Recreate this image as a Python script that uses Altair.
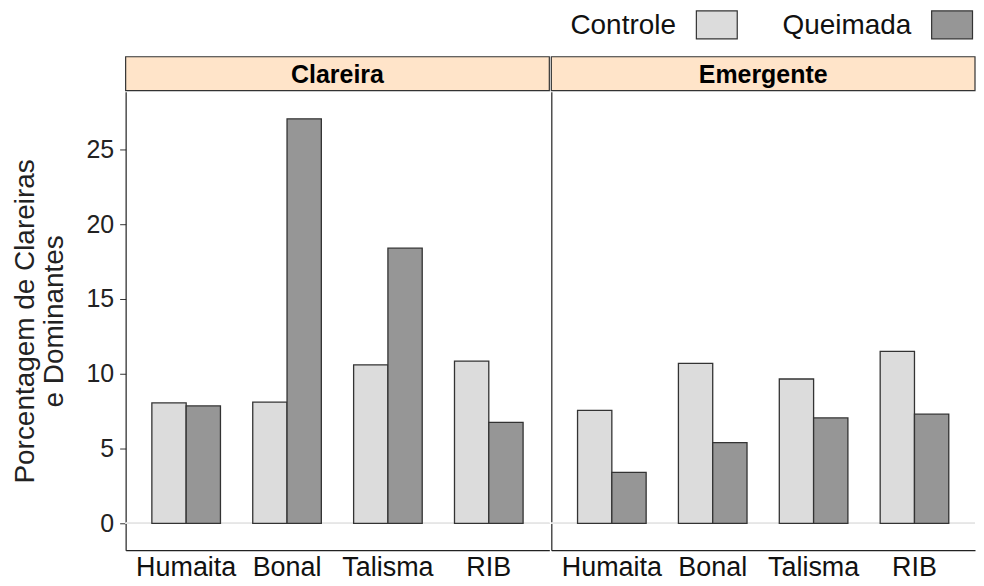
import altair as alt
import pandas as pd

panels = ["Clareira", "Emergente"]
sites = ["Humaita", "Bonal", "Talisma", "RIB"]
trats = ["Controle", "Queimada"]
clareira_controle = [8.05, 8.1, 10.6, 10.85]
clareira_queimada = [7.85, 27.05, 18.4, 6.75]
emergente_controle = [7.55, 10.7, 9.65, 11.5]
emergente_queimada = [3.4, 5.4, 7.05, 7.3]
fills = ["#DCDCDC", "#969696"]
y_ticks = [0, 5, 10, 15, 20, 25]

series = {
    ("Clareira", "Controle"): clareira_controle,
    ("Clareira", "Queimada"): clareira_queimada,
    ("Emergente", "Controle"): emergente_controle,
    ("Emergente", "Queimada"): emergente_queimada,
}
rows = []
for (p, t), vals in series.items():
    for s, v in zip(sites, vals):
        rows.append({"panel": p, "site": s, "trat": t, "val": v})
df = pd.DataFrame(rows)

W, H, SH = 425, 460, 34
FONT = "Liberation Sans"

def plot_panel(p, first):
    d = df[df.panel == p]
    yaxis = alt.Axis(
        values=y_ticks, grid=False, domain=True, domainColor="#222", domainWidth=1.2,
        tickColor="#333", tickSize=6, labelFontSize=25, labelColor="#222",
        labelFont=FONT, labelPadding=6,
        title=["Porcentagem de Clareiras", "e Dominantes"], titleFont=FONT,
        titleFontSize=28, titleFontWeight="normal", titleColor="#222", titlePadding=18,
        titleLineHeight=29,
    ) if first else alt.Axis(
        values=y_ticks, grid=False, domain=True, domainColor="#222", domainWidth=1.2,
        ticks=False, labels=False, title=None,
    )
    yscale = alt.Scale(domain=[-1.8, 28.87], nice=False, zero=False)
    bars = alt.Chart(d).mark_bar(stroke="#333", strokeWidth=1.3).encode(
        x=alt.X("site:N", sort=sites,
                scale=alt.Scale(paddingInner=0.32, paddingOuter=0.26),
                axis=alt.Axis(title=None, ticks=False, domain=True, domainColor="#222",
                              domainWidth=1.2, labelAngle=0, labelFontSize=27,
                              labelFont=FONT, labelColor="#111", labelPadding=4)),
        xOffset=alt.XOffset("trat:N", sort=trats,
                            scale=alt.Scale(paddingInner=0, paddingOuter=0)),
        y=alt.Y("val:Q", scale=yscale, axis=yaxis),
        fill=alt.Fill("trat:N", scale=alt.Scale(domain=trats, range=fills), legend=None),
    )
    zero = alt.Chart(d).mark_rule(color="#E6E6E6", strokeWidth=1.2).encode(
        y=alt.datum(0, scale=yscale)
    )
    return alt.layer(zero, bars).properties(width=W, height=H)

def strip(p):
    base = alt.Chart(alt.Data(values=[{"panel": p}]))
    rect = base.mark_rect(fill="#FFE4C9", stroke="#333", strokeWidth=1.2).encode(
        x=alt.value(0), x2=alt.value(W), y=alt.value(0), y2=alt.value(SH)
    )
    txt = base.mark_text(font=FONT, fontSize=25, fontWeight="bold", color="#000").encode(
        text="panel:N", x=alt.value(W / 2), y=alt.value(SH / 2 + 1)
    )
    return alt.layer(rect, txt).properties(width=W, height=SH)

leg_df = pd.DataFrame({"trat": trats})
leg_x = alt.X("trat:N", sort=trats, axis=None,
              scale=alt.Scale(type="point", domain=trats, range=[593, 829], padding=0))
leg_boxes = alt.Chart(leg_df).mark_rect(width=41, height=28, stroke="#333", strokeWidth=1.2).encode(
    x=leg_x, y=alt.value(16),
    fill=alt.Fill("trat:N", scale=alt.Scale(domain=trats, range=fills), legend=None),
)
leg_text = alt.Chart(leg_df).mark_text(align="right", dx=-41, font=FONT, fontSize=28,
                                       color="#111").encode(
    x=leg_x, y=alt.value(17), text="trat:N"
)
legend = alt.layer(leg_boxes, leg_text).properties(width=2 * W, height=38)

col1 = alt.vconcat(strip("Clareira"), plot_panel("Clareira", True), spacing=0)
col2 = alt.vconcat(strip("Emergente"), plot_panel("Emergente", False), spacing=0)
body = alt.hconcat(col1, col2, spacing=0)

chart = alt.vconcat(legend, body, spacing=9).properties(
    padding={"left": 3, "right": 0, "top": 0, "bottom": 0}
).configure_view(stroke=None).configure_concat(spacing=0)

chart.save("out.html", embed_options={"renderer": "svg", "actions": False})
